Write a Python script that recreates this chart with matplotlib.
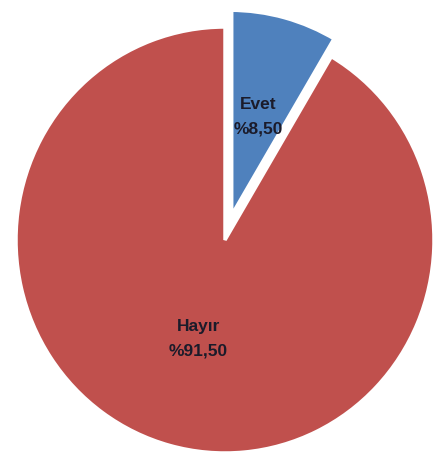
import matplotlib.pyplot as plt

# slice data (percent)
labels = ["Evet", "Hayır"]
values = [8.50, 91.50]
colors = ["#4F81BD", "#C0504D"]
explode = [0.09, 0.0]
label_r = [0.55, 0.48]  # radial label position per slice
edge_w = [5, 2.5]

W, H = 438, 457
fig = plt.figure(figsize=(W / 100, H / 100), dpi=100)
cx, cy, rx, ry = 225, 240, 209, 213
ax = fig.add_axes([(cx - rx) / W, (H - cy - ry) / H, 2 * rx / W, 2 * ry / H])

texts_in = [f"{n}\n%{v:.2f}".replace(".", ",") for n, v in zip(labels, values)]
wedges, texts = ax.pie(
    values,
    labels=texts_in,
    colors=colors,
    explode=explode,
    startangle=90,
    counterclock=False,
    labeldistance=1.0,
    wedgeprops=dict(edgecolor="white", clip_on=False),
    textprops=dict(ha="center", va="center", fontsize=12.5, fontweight="bold",
                   color="#1b1b2a", family="Liberation Sans", linespacing=1.75),
)
for w, lw in zip(wedges, edge_w):
    w.set_linewidth(lw)
for t, k in zip(texts, label_r):
    x, y = t.get_position()
    t.set_position((x * k, y * k))

ax.set_xlim(-1, 1)
ax.set_ylim(-1, 1)
ax.set_aspect("auto")
ax.axis("off")

fig.savefig("out.png", dpi=100)
